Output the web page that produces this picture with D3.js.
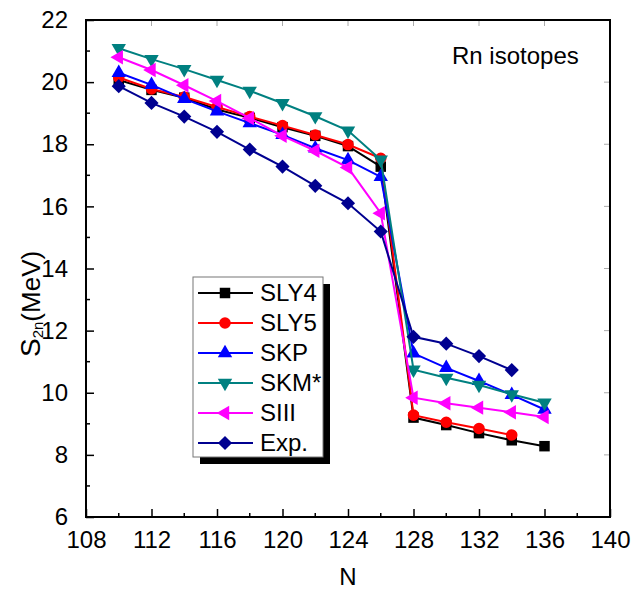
<!DOCTYPE html>
<html>
<head>
<meta charset="utf-8">
<script src="https://cdn.jsdelivr.net/npm/d3@7"></script>
<style>
  body { margin: 0; background: #fff; }
  text { font-family: Arial, "Liberation Sans", sans-serif; fill: #000; }
</style>
</head>
<body>
<div id="chart"></div>
<script>
const neutrons = [110, 112, 114, 116, 118, 120, 122, 124, 126, 128, 130, 132, 134, 136];
const sly4 = [20.07, 19.75, 19.5, 19.12, 18.85, 18.55, 18.27, 17.94, 17.28, 9.2, 8.96, 8.7, 8.47, 8.28];
const sly5 = [20.15, 19.78, 19.52, 19.2, 18.89, 18.6, 18.3, 17.99, 17.55, 9.28, 9.05, 8.85, 8.64];
const skp = [20.3, 19.91, 19.46, 19.06, 18.68, 18.3, 17.87, 17.49, 16.95, 11.27, 10.8, 10.38, 9.93, 9.46];
const skm = [21.09, 20.74, 20.42, 20.07, 19.72, 19.32, 18.9, 18.44, 17.5, 10.74, 10.48, 10.25, 9.95, 9.68];
const siii = [20.8, 20.39, 19.9, 19.39, 18.84, 18.27, 17.79, 17.25, 15.78, 9.84, 9.66, 9.52, 9.37, 9.22];
const expt = [19.87, 19.33, 18.89, 18.4, 17.83, 17.28, 16.66, 16.1, 15.19, 11.8, 11.58, 11.18, 10.73];
const xTicks = [108, 112, 116, 120, 124, 128, 132, 136, 140];
const yTicks = [6, 8, 10, 12, 14, 16, 18, 20, 22];

const series = [
  { name: 'SLY4', values: sly4, color: '#000000', shape: 'square' },
  { name: 'SLY5', values: sly5, color: '#ff0000', shape: 'circle' },
  { name: 'SKP', values: skp, color: '#0000ff', shape: 'up' },
  { name: 'SKM*', values: skm, color: '#008080', shape: 'down' },
  { name: 'SIII', values: siii, color: '#ff00ff', shape: 'left' },
  { name: 'Exp.', values: expt, color: '#000090', shape: 'diamond' }
];

const width = 632, height = 590;
const plotL = 86, plotR = 610, plotT = 20, plotB = 517;

const x = d3.scaleLinear().domain([108, 140]).range([plotL, plotR]);
const y = d3.scaleLinear().domain([6, 22]).range([plotB, plotT]);

const svg = d3.select('#chart').append('svg')
  .attr('width', width)
  .attr('height', height);

// markers
function markerPath (shape) {
  if (shape === 'square') return d3.symbol(d3.symbolSquare, 110)();
  if (shape === 'circle') return d3.symbol(d3.symbolCircle, 105)();
  if (shape === 'diamond') return d3.symbol(d3.symbolSquare, 100)();
  return d3.symbol(d3.symbolTriangle, 90)();
}
function markerRotate (shape) {
  if (shape === 'down') return 180;
  if (shape === 'left') return -90;
  if (shape === 'diamond') return 45;
  return 0;
}

// mirror ticks on top and right
const minorX = d3.range(110, 140, 4);
const minorY = d3.range(7, 22, 2);
const faint = svg.append('g').attr('stroke', '#aaa').attr('stroke-width', 1);
xTicks.slice(1, -1).forEach(t => {
  faint.append('line').attr('x1', x(t)).attr('x2', x(t)).attr('y1', plotT).attr('y2', plotT + 6);
});
yTicks.slice(1, -1).forEach(t => {
  faint.append('line').attr('x1', plotR).attr('x2', plotR - 6).attr('y1', y(t)).attr('y2', y(t));
});

// bottom axis
const xAxis = svg.append('g')
  .attr('transform', `translate(0,${plotB})`)
  .call(d3.axisBottom(x).tickValues(xTicks).tickSizeInner(-8).tickSizeOuter(0).tickPadding(14));
xAxis.select('.domain').remove();
xAxis.selectAll('.tick line').attr('stroke-width', 1.5);
xAxis.selectAll('.tick text').attr('font-size', 24).attr('font-family', 'Arial, "Liberation Sans", sans-serif');
xAxis.selectAll('.minor').data(minorX).enter().append('line')
  .attr('x1', d => x(d)).attr('x2', d => x(d))
  .attr('y1', 0).attr('y2', -4)
  .attr('stroke', '#000').attr('stroke-width', 1.5);

// left axis
const yAxis = svg.append('g')
  .attr('transform', `translate(${plotL},0)`)
  .call(d3.axisLeft(y).tickValues(yTicks).tickSizeInner(-8).tickSizeOuter(0).tickPadding(18));
yAxis.select('.domain').remove();
yAxis.selectAll('.tick line').attr('stroke-width', 1.5);
yAxis.selectAll('.tick text').attr('font-size', 24).attr('font-family', 'Arial, "Liberation Sans", sans-serif');
yAxis.selectAll('.minor').data(minorY).enter().append('line')
  .attr('x1', 0).attr('x2', 4)
  .attr('y1', d => y(d)).attr('y2', d => y(d))
  .attr('stroke', '#000').attr('stroke-width', 1.5);

// frame
svg.append('rect')
  .attr('x', plotL).attr('y', plotT)
  .attr('width', plotR - plotL).attr('height', plotB - plotT)
  .attr('fill', 'none').attr('stroke', '#000').attr('stroke-width', 2);

// series
const line = d3.line();
series.forEach(s => {
  const pts = s.values.map((v, i) => [x(neutrons[i]), y(v)]);
  svg.append('path')
    .attr('d', line(pts))
    .attr('fill', 'none')
    .attr('stroke', s.color)
    .attr('stroke-width', 2);
  svg.append('g').selectAll('path')
    .data(pts)
    .enter()
    .append('path')
    .attr('d', markerPath(s.shape))
    .attr('transform', d => `translate(${d[0]},${d[1]}) rotate(${markerRotate(s.shape)})`)
    .attr('fill', s.color);
});

// legend
const lx = 193, ly = 277, lw = 130, lh = 180;
svg.append('rect').attr('x', lx + 7).attr('y', ly + 7).attr('width', lw).attr('height', lh).attr('fill', '#000');
svg.append('rect').attr('x', lx).attr('y', ly).attr('width', lw).attr('height', lh)
  .attr('fill', '#fff').attr('stroke', '#777').attr('stroke-width', 1);
series.forEach((s, i) => {
  const ry = ly + 16 + i * 30;
  svg.append('line').attr('x1', lx + 5).attr('x2', lx + 60).attr('y1', ry).attr('y2', ry)
    .attr('stroke', s.color).attr('stroke-width', 2);
  svg.append('path').attr('d', markerPath(s.shape))
    .attr('transform', `translate(${lx + 32},${ry}) rotate(${markerRotate(s.shape)})`)
    .attr('fill', s.color);
  svg.append('text').attr('x', lx + 67).attr('y', ry).attr('dy', '0.35em')
    .attr('font-size', 24).text(s.name);
});

// annotations
svg.append('text').attr('x', 452).attr('y', 64).attr('font-size', 24).text('Rn isotopes');
svg.append('text').attr('x', (plotL + plotR) / 2).attr('y', 585)
  .attr('text-anchor', 'middle').attr('font-size', 24).text('N');

const ylab = svg.append('text')
  .attr('transform', 'translate(40,357) rotate(-90)')
  .attr('font-size', 26);
ylab.append('tspan').attr('font-size', 28).text('S');
ylab.append('tspan').attr('font-size', 15).attr('dy', 3).text('2n');
ylab.append('tspan').attr('dy', -3).text('(MeV)');
</script>
</body>
</html>
